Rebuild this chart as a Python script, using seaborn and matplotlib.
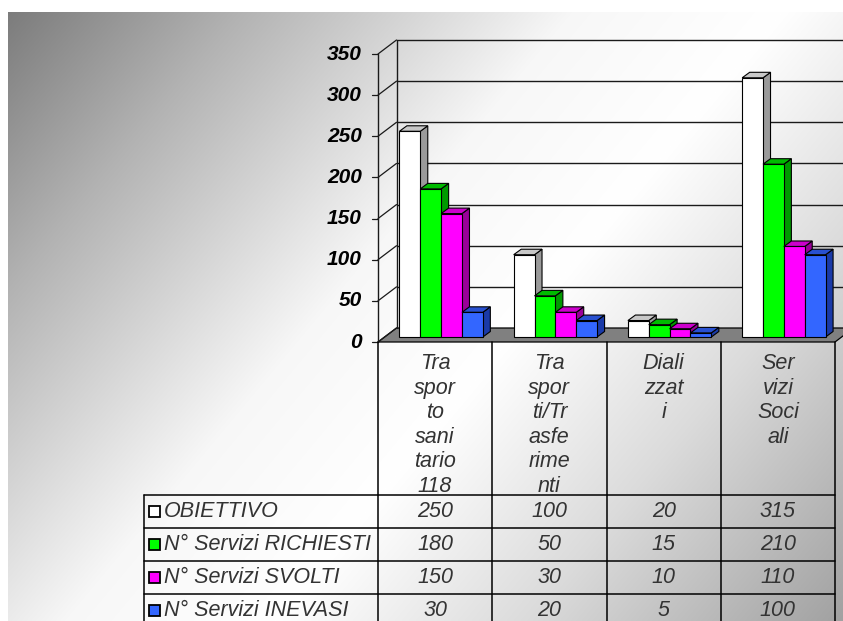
import numpy as np
import pandas as pd
import matplotlib
matplotlib.use("Agg")
import matplotlib.pyplot as plt
import seaborn as sns
from matplotlib.patches import Polygon, Rectangle
from matplotlib.transforms import ScaledTranslation

# ---------------- data ----------------
categorie = ["Trasporto sanitario 118", "Trasporti/Trasferimenti", "Dializzati", "Servizi Sociali"]
etichette = ["Tra\nspor\nto\nsani\ntario\n118",
             "Tra\nspor\nti/Tr\nasfe\nrime\nnti",
             "Diali\nzzat\ni",
             "Ser\nvizi\nSoci\nali"]
serie = ["OBIETTIVO", "N° Servizi RICHIESTI", "N° Servizi SVOLTI", "N° Servizi INEVASI"]
obiettivo = [250, 100, 20, 315]
richiesti = [180, 50, 15, 210]
svolti = [150, 30, 10, 110]
inevasi = [30, 20, 5, 100]
yticks = [0, 50, 100, 150, 200, 250, 300, 350]

front_colors = ["#ffffff", "#00ff00", "#ff00ff", "#3366ff"]
side_colors = ["#9a9a9a", "#009a00", "#990099", "#1a3aa8"]
top_colors = ["#c8c8c8", "#00bb00", "#cc00cc", "#2850d0"]

W, H = 843, 621
FX, FY = 6, 5        # bar front offset (px)
DX, DY = 7.5, 5.5    # bar depth (px)
WX, WY = 18.5, 14    # wall depth (px)

sns.set_theme(style="white")
plt.rcParams["font.family"] = ["Liberation Sans", "DejaVu Sans"]

fig = plt.figure(figsize=(W / 100, H / 100), dpi=100)

# background gradient
bg = fig.add_axes([0, 0, 1, 1], zorder=0)
yy, xx = np.mgrid[0:H, 0:W]
t = 1.2 * xx + yy
g = np.interp(t, [0, 300, 700, 950, 1250, 1650], [0.47, 0.70, 0.97, 1.0, 0.86, 0.62])
g[(xx < 8) | (yy < 12)] = 1.0
bg.imshow(np.dstack([g, g, g]), extent=(0, W, H, 0), aspect="auto", interpolation="bilinear")
bg.axis("off")

# pixel overlay for walls, floor and table
pix = fig.add_axes([0, 0, 1, 1], zorder=1)
pix.set_xlim(0, W)
pix.set_ylim(H, 0)
pix.axis("off")

# main axes (front plane)
ax = fig.add_axes([378 / W, (H - 342) / H, (835 - 378) / W, (342 - 54) / H], zorder=2)
df = pd.DataFrame({
    "categoria": categorie * 4,
    "serie": np.repeat(serie, 4),
    "valore": obiettivo + richiesti + svolti + inevasi,
})
sns.barplot(df, x="categoria", y="valore", hue="serie", order=categorie, hue_order=serie,
            palette=front_colors, saturation=1, width=0.73, edgecolor="black",
            linewidth=0.8, legend=False, ax=ax)
ax.set_xlim(-0.5, 3.5)
ax.set_ylim(0, 350)
ax.axis("off")


def px(x, v):
    d = ax.transData.transform((x, v))
    return d[0], H - d[1]


# bars: front faces shifted, plus side/top faces
bars = sorted(ax.patches, key=lambda p: p.get_x())
shift = ax.transData + ScaledTranslation(FX / 100, FY / 100, fig.dpi_scale_trans)
for i, p in enumerate(bars):
    k = i % 4
    p.set_transform(shift)
    p.set_zorder(3 * i + 5)
    x0, x1, h = p.get_x(), p.get_x() + p.get_width(), p.get_height()
    ax0, ay0 = px(x0, 0)
    ax1, ayh = px(x1, h)
    ax0, ax1 = ax0 + FX, ax1 + FX
    ay0, ayh = ay0 - FY, ayh - FY
    side = Polygon([(ax1, ay0), (ax1, ayh), (ax1 + DX, ayh - DY), (ax1 + DX, ay0 - DY)],
                   closed=True, fc=side_colors[k], ec="black", lw=0.8,
                   transform=pix.transData, clip_on=False, zorder=3 * i + 3)
    top = Polygon([(ax0, ayh), (ax1, ayh), (ax1 + DX, ayh - DY), (ax0 + DX, ayh - DY)],
                  closed=True, fc=top_colors[k], ec="black", lw=0.8,
                  transform=pix.transData, clip_on=False, zorder=3 * i + 4)
    ax.add_patch(side)
    ax.add_patch(top)

# floor, walls, grid
xl, y0 = px(-0.5, 0)
xr, _ = px(3.5, 0)
_, ytop = px(-0.5, 350)
pix.add_patch(Polygon([(xl, y0), (xr, y0), (xr + WX, y0 - WY), (xl + WX, y0 - WY)],
                      closed=True, fc="#808080", ec="black", lw=0.9))
lc = "#1a1a1a"
for v in yticks:
    _, yv = px(-0.5, v)
    if v > 0:
        pix.plot([xl + WX, W + 10], [yv - WY, yv - WY], color=lc, lw=1.0)
    pix.plot([xl, xl + WX], [yv, yv - WY], color=lc, lw=0.9)
    pix.plot([xl - 6, xl], [yv, yv], color=lc, lw=0.9)
    pix.text(xl - 16, yv, str(v), ha="right", va="center", fontsize=15,
             fontweight="bold", fontstyle="italic", color="black")
pix.plot([xl + WX, xl + WX], [y0 - WY, ytop - WY], color=lc, lw=1.0)
pix.plot([xl, xl], [y0, ytop], color=lc, lw=1.0)

# data table
cols = [px(c - 0.5, 0)[0] for c in range(5)]
row_top, row_h, left = 495, 33, 144
tc = "#333333"
fs = 15.5
for c in range(4):
    cx = (cols[c] + cols[c + 1]) / 2
    pix.text(cx, 353, etichette[c], ha="center", va="top", fontsize=fs,
             fontstyle="italic", color=tc, linespacing=1.22)
for xc in cols:
    pix.plot([xc, xc], [y0, H + 5], color="black", lw=1.1)
pix.plot([left, left], [row_top, H + 5], color="black", lw=1.1)
for r in range(5):
    yr = row_top + r * row_h
    pix.plot([left, cols[-1]], [yr, yr], color="black", lw=1.1)

righe = [obiettivo, richiesti, svolti, inevasi]
for r, vals in enumerate(righe):
    yc = row_top + r * row_h + row_h / 2
    pix.add_patch(Rectangle((149, yc - 5.5), 11, 11, fc=front_colors[r], ec="black", lw=1.3))
    pix.text(164, yc, serie[r], ha="left", va="center", fontsize=fs,
             fontstyle="italic", color=tc)
    for c, v in enumerate(vals):
        cx = (cols[c] + cols[c + 1]) / 2
        pix.text(cx, yc, str(v), ha="center", va="center", fontsize=fs,
                 fontstyle="italic", color=tc)

fig.savefig("out.png", dpi=100)
